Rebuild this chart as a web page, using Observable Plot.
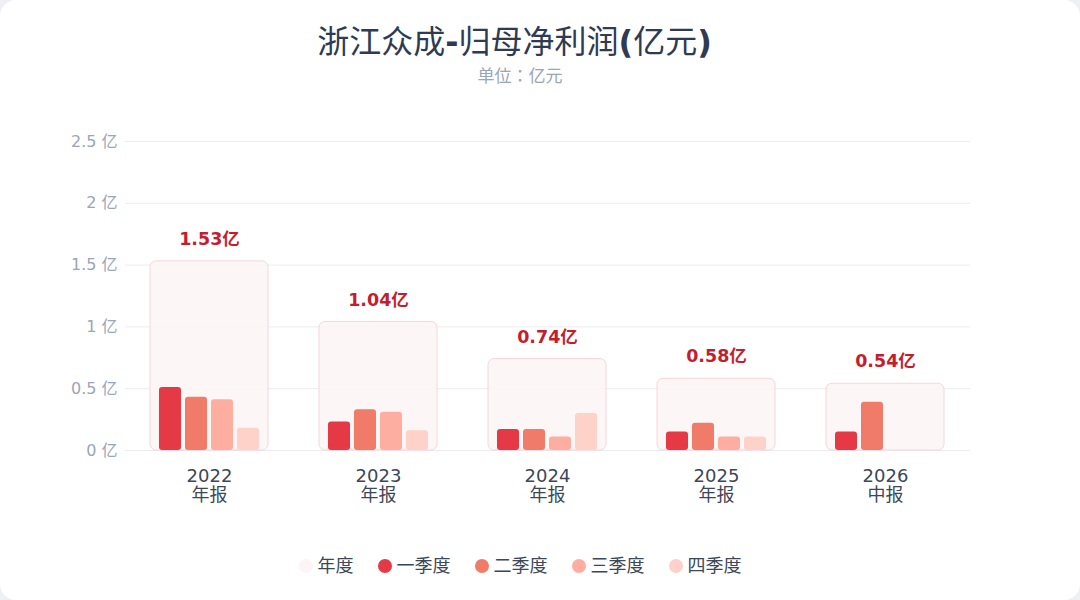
<!DOCTYPE html>
<html>
<head>
<meta charset="utf-8">
<script src="https://cdn.jsdelivr.net/npm/d3@7"></script>
<script src="https://cdn.jsdelivr.net/npm/@observablehq/plot@0.6"></script>
<style>
  html, body { margin: 0; padding: 0; background: #eef0f4; }
  #card { position: relative; width: 1080px; height: 600px; background: #fff; border-radius: 16px; overflow: hidden;
    font-family: "DejaVu Sans", "Noto Sans CJK SC", sans-serif; }
  #title { position: absolute; top: 20px; left: 0; width: 1029px; text-align: center; font-size: 32px; font-weight: normal; color: #2e3b52; line-height: 44px; }
  #title b { font-weight: bold; }
  #subtitle { position: absolute; top: 64px; left: 0; width: 1040px; text-align: center; font-size: 17px; color: #9aa5b8; line-height: 24px; font-family: "DejaVu Sans", "Noto Sans CJK JP", sans-serif; }
  .layer { position: absolute; top: 100px; left: 0; }
  #legend { position: absolute; top: 554px; left: 0; width: 1040px; display: flex; justify-content: center; gap: 24px; font-size: 18px; color: #3d4758; }
  .item { display: flex; align-items: center; gap: 5px; line-height: 24px; }
  .dot { width: 14px; height: 14px; border-radius: 50%; display: inline-block; }
</style>
</head>
<body>
<div id="card">
  <div id="title">浙江众成<b>-</b>归母净利润<b>(</b>亿元<b>)</b></div>
  <div id="subtitle">单位：亿元</div>
  <div id="grid" class="layer"></div>
  <div id="chart" class="layer"></div>
  <div id="legend"></div>
</div>
<script>
const years = ["2022", "2023", "2024", "2025", "2026"];
const periods = ["年报", "年报", "年报", "年报", "中报"];
const annual = [1.53, 1.04, 0.74, 0.58, 0.54];
const q1 = [0.51, 0.23, 0.17, 0.15, 0.15];
const q2 = [0.43, 0.33, 0.17, 0.22, 0.39];
const q3 = [0.41, 0.31, 0.11, 0.11, null];
const q4 = [0.18, 0.16, 0.30, 0.11, null];
const quarters = ["一季度", "二季度", "三季度", "四季度"];
const quarterColors = ["#e63946", "#f07b68", "#fdaea0", "#fed1c9"];
const annualLabel = "年度";
const annualFill = "#fcf4f5";
const annualStroke = "#f6d6db";
const yTicks = [0, 0.5, 1, 1.5, 2, 2.5];

const annualData = years.map((y, i) => ({year: y, value: annual[i], label: annual[i].toFixed(2) + "亿"}));
const qSeries = [q1, q2, q3, q4];
const qData = [];
years.forEach((y, i) => {
  qSeries.forEach((s, j) => {
    if (s[i] != null) qData.push({year: y, quarter: quarters[j], value: s[i]});
  });
});

const frame = {
  width: 1080,
  height: 430,
  marginLeft: 125,
  marginRight: 110,
  marginTop: 41,
  marginBottom: 80
};
const font = {fontFamily: "DejaVu Sans, Noto Sans CJK SC, sans-serif", background: "transparent"};

// continuous horizontal grid behind the faceted chart
const grid = Plot.plot({
  ...frame,
  style: font,
  x: {axis: null},
  y: {domain: [0, 2.5], axis: null},
  marks: [Plot.ruleY(yTicks, {stroke: "#ecebf2", strokeWidth: 1})]
});
document.getElementById("grid").appendChild(grid);

const chart = Plot.plot({
  ...frame,
  style: font,
  fx: {domain: years, paddingInner: 0.3, paddingOuter: 0.15, label: null},
  x: {domain: quarters, paddingInner: 0.165, paddingOuter: 0.34, axis: null},
  y: {domain: [0, 2.5], label: null},
  color: {domain: quarters, range: quarterColors},
  marks: [
    Plot.rectY(annualData, {fx: "year", y: "value", fill: annualFill, fillOpacity: 0.85, stroke: annualStroke, strokeWidth: 1, rx: 6}),
    Plot.barY(qData, {fx: "year", x: "quarter", y: "value", fill: "quarter", ry1: 3, rx1y2: 3, rx2y2: 3}),
    Plot.text(annualData, {fx: "year", y: "value", text: "label", dy: -22, fill: "#c41d2e", fontWeight: "bold", fontSize: 17.5}),
    Plot.axisY({ticks: yTicks, tickFormat: d => d + " 亿", tickSize: 0, tickPadding: 33, fontSize: 16, color: "#9aa5b8", stroke: "none", anchor: "left"}),
    Plot.axisFx({anchor: "bottom", tickFormat: (d) => d + "\n" + periods[years.indexOf(d)], tickSize: 0, tickPadding: 18, fontSize: 18, color: "#3d4758", label: null, lineHeight: 1.05})
  ]
});
document.getElementById("chart").appendChild(chart);

const legend = document.getElementById("legend");
const items = [[annualLabel, annualFill]].concat(quarters.map((q, i) => [q, quarterColors[i]]));
items.forEach(([name, color]) => {
  const el = document.createElement("div");
  el.className = "item";
  el.innerHTML = `<span class="dot" style="background:${color}"></span><span>${name}</span>`;
  legend.appendChild(el);
});
</script>
</body>
</html>
